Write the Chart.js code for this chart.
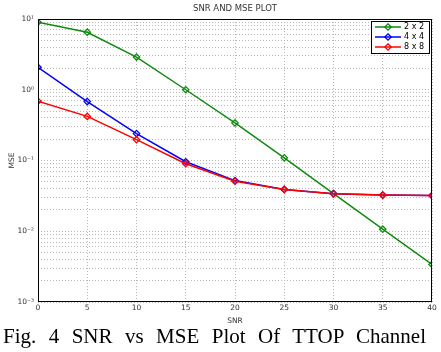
<!DOCTYPE html>
<html>
<head>
<meta charset="utf-8">
<script src="https://cdn.jsdelivr.net/npm/chart.js@4.4.1/dist/chart.umd.min.js"></script>
<style>
  html, body { margin: 0; padding: 0; background: #fff; }
  #wrap { width: 441px; height: 352px; position: relative; }
  #plot { display: block; }
  .caption {
    position: absolute; left: 3px; top: 323px; width: 423px;
    font-family: "Liberation Serif", "DejaVu Serif", serif;
    font-size: 21px; line-height: 26px; color: #000;
    text-align: justify; text-align-last: justify; white-space: nowrap;
  }
</style>
</head>
<body>
<div id="wrap">
  <canvas id="plot" width="441" height="326"></canvas>
  <div class="caption">Fig. 4 SNR vs MSE Plot Of TTOP Channel</div>
</div>
<script>
// SNR (dB) on x, MSE on a log y axis, one series per antenna config
const snr = [0, 5, 10, 15, 20, 25, 30, 35, 40];
const mse2x2 = [9.0, 6.5, 2.9, 1.0, 0.34, 0.109, 0.034, 0.0107, 0.0034];
const mse4x4 = [2.08, 0.68, 0.24, 0.096, 0.052, 0.039, 0.034, 0.0325, 0.032];
const mse8x8 = [0.69, 0.42, 0.197, 0.09, 0.051, 0.039, 0.034, 0.0325, 0.032];
const seriesLabels = ["2 x 2", "4 x 4", "8 x 8"];
const yDecades = [-3, -2, -1, 0, 1];

const COLORS = ["#0f8a0f", "#0000ff", "#ff0000"];
const SUP = { "-": "⁻", "0": "⁰", "1": "¹", "2": "²", "3": "³" };

function points(ys) {
  return snr.map((x, i) => ({ x: x, y: ys[i] }));
}

// order: lower value is painted last, so red (8 x 8) ends up on top like the plot
function dataset(label, ys, color, order) {
  return {
    label: label,
    data: points(ys),
    order: order,
    borderColor: color,
    backgroundColor: "transparent",
    borderWidth: 1.5,
    pointStyle: "rectRot",
    pointRadius: 3.2,
    pointBorderWidth: 1.3,
    pointBackgroundColor: "transparent",
    pointBorderColor: color,
    tension: 0,
  };
}

// frame box + MATLAB-style legend box in the top right corner
const framePlugin = {
  id: "frame",
  afterDraw(chart) {
    const { ctx, chartArea: a } = chart;
    ctx.save();
    ctx.strokeStyle = "#000";
    ctx.lineWidth = 1;
    ctx.strokeRect(a.left + 0.5, a.top + 0.5, a.right - a.left - 1, a.bottom - a.top - 1);

    const bx = a.right - 61, by = a.top + 2, bw = 58, bh = 32;
    ctx.fillStyle = "#fff";
    ctx.fillRect(bx, by, bw, bh);
    ctx.strokeRect(bx + 0.5, by + 0.5, bw, bh);
    ctx.font = "8px 'DejaVu Sans', sans-serif";
    ctx.textBaseline = "middle";
    const sets = chart.data.datasets;
    sets.forEach((ds, i) => {
      const y = by + 6 + i * 10;
      ctx.strokeStyle = ds.borderColor;
      ctx.lineWidth = 1.5;
      ctx.beginPath();
      ctx.moveTo(bx + 4, y);
      ctx.lineTo(bx + 30, y);
      ctx.stroke();
      ctx.lineWidth = 1.3;
      ctx.beginPath();
      ctx.moveTo(bx + 17, y - 3.2);
      ctx.lineTo(bx + 20.2, y);
      ctx.lineTo(bx + 17, y + 3.2);
      ctx.lineTo(bx + 13.8, y);
      ctx.closePath();
      ctx.stroke();
      ctx.fillStyle = "#000";
      ctx.fillText(ds.label, bx + 33, y);
    });
    ctx.restore();
  },
};

new Chart(document.getElementById("plot"), {
  type: "line",
  data: {
    datasets: [
      dataset(seriesLabels[0], mse2x2, COLORS[0], 2),
      dataset(seriesLabels[1], mse4x4, COLORS[1], 1),
      dataset(seriesLabels[2], mse8x8, COLORS[2], 0),
    ],
  },
  options: {
    responsive: false,
    animation: false,
    layout: { padding: { left: 0, right: 9, top: 0, bottom: 0 } },
    plugins: {
      legend: { display: false },
      tooltip: { enabled: false },
      title: {
        display: true,
        fullSize: false,
        text: "SNR AND MSE PLOT",
        color: "#333",
        font: { family: "DejaVu Sans", size: 8.5, weight: "normal" },
        padding: { top: 4, bottom: 4.8 },
      },
    },
    scales: {
      x: {
        type: "linear",
        min: 0,
        max: 40,
        ticks: { stepSize: 5, color: "#333", font: { family: "DejaVu Sans", size: 7.5 }, padding: 2, maxRotation: 0 },
        grid: { color: "#b8b8b8", drawTicks: false },
        border: { display: false, dash: [1, 2] },
        title: { display: true, text: "SNR", color: "#333", font: { family: "DejaVu Sans", size: 7.5 }, padding: { top: 1, bottom: 0 } },
        afterFit(scale) { scale.height = 24; },
      },
      y: {
        type: "logarithmic",
        min: 0.001,
        max: 10,
        afterBuildTicks(scale) {
          const t = [];
          for (let k = yDecades[0]; k < yDecades[yDecades.length - 1]; k++) {
            for (let m = 1; m <= 9; m++) t.push({ value: m * Math.pow(10, k) });
          }
          t.push({ value: Math.pow(10, yDecades[yDecades.length - 1]) });
          scale.ticks = t;
        },
        ticks: {
          autoSkip: false,
          color: "#333",
          font: { family: "DejaVu Sans", size: 7.5 },
          padding: 4,
          callback(v) {
            const e = Math.round(Math.log10(v));
            if (Math.abs(v - Math.pow(10, e)) > 1e-12 * Math.pow(10, e)) return "";
            return "10" + String(e).split("").map((c) => SUP[c]).join("");
          },
        },
        grid: { color: "#b8b8b8", drawTicks: false },
        border: { display: false, dash: [1, 2] },
        title: { display: true, text: "MSE", color: "#333", font: { family: "DejaVu Sans", size: 7.5 }, padding: { top: 8, bottom: 2 } },
        afterFit(scale) { scale.width = 38; },
      },
    },
  },
  plugins: [framePlugin],
});
</script>
</body>
</html>
